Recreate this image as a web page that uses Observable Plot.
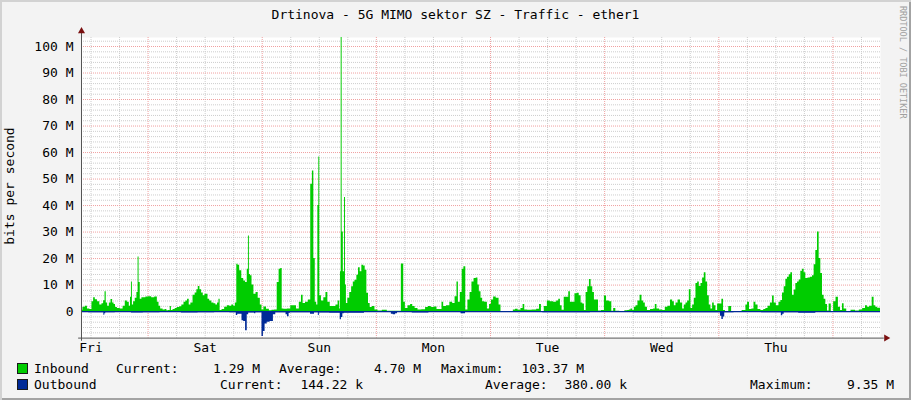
<!DOCTYPE html>
<html><head><meta charset="utf-8">
<script src="https://cdn.jsdelivr.net/npm/d3@7"></script>
<script src="https://cdn.jsdelivr.net/npm/@observablehq/plot@0.6"></script>
<style>
html,body{margin:0;padding:0;background:#f3f3f3;}
#wrap{position:relative;width:911px;height:400px;background:#f3f3f3;box-shadow:inset 2px 2px 0 #d2d2d2, inset -2px -2px 0 #a3a3a3;font-family:"DejaVu Sans Mono",monospace;font-size:13px;color:#000;overflow:hidden}
.t{position:absolute;white-space:pre;line-height:13px;height:13px}
.r{text-align:right}
.sw{position:absolute;width:9px;height:9px;border:1px solid #1a1a1a}
#chart{position:absolute;left:0;top:0}
</style></head><body>
<div id="wrap">
<div id="chart"></div>
</div>
<script>
// ---- data (hours since Friday 00:00, Mbit/s) ----
const title = "Drtinova - 5G MIMO sektor SZ - Traffic - ether1";
const yLabel = "bits per second";
const watermark = "RRDTOOL / TOBI OETIKER";
const dayLabels = ["Fri","Sat","Sun","Mon","Tue","Wed","Thu"];
const yTicks = [0,10,20,30,40,50,60,70,80,90,100];
const xDomain = [-14, 154];
const yDomain = [-10, 103.4];

const inbound = [
[-14.0,0.5],[-13.4,1.6],[-13.0,2.0],[-12.5,1.0],[-12.0,0.8],[-11.6,3.7],[-11.3,5.2],[-10.9,4.5],[-10.4,3.7],[-9.9,2.5],
[-9.5,3.0],[-9.2,4.1],[-8.9,7.5],[-8.7,3.2],[-8.3,2.0],[-8.0,3.2],[-7.6,4.6],[-7.3,3.2],[-7.0,2.7],[-6.7,1.5],
[-6.2,1.2],[-5.5,1.0],[-5.0,2.0],[-4.6,4.0],[-4.1,3.5],[-3.8,2.0],[-3.6,5.4],[-3.4,11.2],[-3.2,2.5],[-2.9,3.7],
[-2.5,5.0],[-2.2,7.2],[-2.0,20.6],[-1.8,11.0],[-1.5,4.7],[-1.1,5.2],[-0.6,5.2],[-0.3,5.5],[0.4,5.6],[1.1,5.2],
[1.7,5.5],[2.2,3.5],[2.4,2.0],[2.9,1.0],[3.4,0.6],[3.8,0.8],[4.1,0.3],[4.5,0.4],[4.8,1.9],[5.0,0.4],
[5.5,0.8],[5.9,1.2],[6.4,1.5],[6.9,1.8],[7.3,2.5],[7.8,3.5],[8.1,4.0],[8.5,4.7],[8.8,2.5],[9.2,3.2],
[9.7,6.2],[10.1,7.0],[10.4,8.2],[10.7,9.5],[11.1,8.2],[11.4,7.0],[11.8,6.0],[12.1,6.5],[12.5,6.5],[12.7,4.7],
[13.2,4.0],[13.6,3.2],[14.1,3.0],[14.4,2.5],[14.8,3.2],[15.0,4.7],[15.3,0.4],[15.8,0.8],[16.4,1.6],[16.9,2.2],
[17.4,2.0],[17.8,2.5],[18.2,2.0],[18.5,3.2],[18.8,17.9],[19.0,17.5],[19.5,15.4],[19.9,12.5],[20.3,11.5],[20.7,11.0],
[21.0,16.0],[21.2,28.5],[21.4,14.0],[21.7,13.5],[22.0,10.0],[22.5,6.5],[22.9,7.2],[23.4,5.0],[23.8,2.5],[24.1,0.6],
[24.6,1.7],[25.2,0.9],[25.8,0.3],[26.3,0.5],[26.9,0.6],[27.4,11.0],[27.7,16.0],[28.1,16.3],[28.3,1.0],[28.8,0.9],
[29.8,1.0],[30.2,2.2],[30.9,2.2],[31.5,1.0],[32.1,3.5],[32.4,6.2],[32.8,3.1],[33.4,3.5],[34.0,4.4],[34.4,48.0],
[34.7,53.0],[35.0,20.0],[35.3,3.5],[35.6,2.5],[35.8,40.0],[36.0,58.3],[36.2,6.0],[36.7,4.0],[37.2,5.2],[37.6,7.2],
[38.0,3.5],[38.6,1.9],[39.3,1.9],[39.7,2.5],[40.2,4.0],[40.4,1.0],[40.5,15.0],[40.7,103.37],[40.9,30.0],[41.2,15.0],
[41.4,43.0],[41.6,10.0],[41.8,3.1],[42.2,5.0],[42.6,7.2],[43.0,9.4],[43.3,11.2],[43.7,11.8],[44.1,13.7],[44.4,16.5],
[44.8,15.0],[45.1,17.5],[45.5,17.2],[45.8,15.6],[46.2,6.9],[46.5,3.1],[46.9,1.5],[47.4,1.9],[48.0,0.6],[48.7,0.2],
[49.8,0.5],[50.8,0.1],[52.9,0.1],[53.6,18.0],[53.9,3.5],[54.3,1.2],[55.0,2.2],[55.4,2.7],[55.9,1.9],[56.4,1.2],
[57.1,0.6],[58.0,0.7],[58.7,1.5],[59.2,1.9],[59.9,1.5],[60.4,1.7],[61.1,0.8],[61.7,0.8],[61.9,3.5],[62.4,1.9],
[63.1,2.2],[63.8,3.5],[64.3,3.1],[64.8,5.6],[65.1,11.2],[65.4,3.5],[65.9,7.2],[66.2,16.0],[66.6,16.9],[67.0,0.6],
[67.5,4.4],[67.9,7.2],[68.3,11.2],[68.8,12.5],[69.2,12.7],[69.5,10.0],[69.8,7.5],[70.2,5.0],[70.5,3.7],[71.1,3.5],
[71.6,1.0],[72.0,2.7],[72.4,4.4],[72.9,5.5],[73.5,5.0],[74.1,2.5],[74.3,0.0],[76.6,0.0],[77.0,0.6],[77.5,0.9],
[78.1,0.5],[78.7,1.2],[79.0,2.7],[79.4,0.6],[80.2,0.5],[81.3,0.6],[82.1,0.9],[82.5,2.7],[82.9,0.0],[83.7,1.9],
[84.2,4.0],[84.9,3.7],[85.6,3.5],[86.2,4.0],[86.5,4.7],[86.9,2.2],[87.2,0.5],[87.8,5.4],[88.3,5.4],[88.6,7.5],
[89.0,3.5],[89.5,3.5],[90.0,6.7],[90.4,6.9],[90.9,6.0],[91.2,3.2],[91.6,2.9],[91.9,0.4],[92.3,7.2],[92.6,9.4],
[93.0,12.1],[93.3,9.4],[93.7,7.2],[94.0,4.4],[94.5,4.4],[94.9,0.2],[95.8,0.4],[96.1,5.9],[96.7,4.0],[97.3,3.7],
[97.7,0.1],[98.1,1.2],[98.6,0.1],[99.8,0.0],[100.7,0.3],[101.0,0.4],[101.4,0.6],[101.7,1.0],[102.1,0.4],[102.4,1.6],
[102.8,2.2],[103.2,4.0],[103.7,6.2],[104.0,4.0],[104.4,3.2],[104.7,1.6],[105.3,0.4],[106.0,0.8],[106.5,1.0],[106.8,2.7],
[107.2,1.0],[107.9,0.6],[108.5,0.4],[109.0,1.6],[109.6,2.0],[110.1,4.4],[110.5,3.7],[110.8,2.2],[111.2,3.2],[111.7,4.4],
[112.2,3.2],[112.6,1.0],[112.9,2.5],[113.3,3.2],[113.6,4.0],[114.0,8.2],[114.3,1.2],[114.7,2.5],[115.0,5.0],[115.4,10.6],
[115.7,11.2],[116.1,9.5],[116.4,10.6],[116.8,12.7],[117.1,14.7],[117.5,11.2],[117.8,6.0],[118.2,2.5],[118.5,1.0],[118.9,3.2],
[119.2,2.2],[119.6,0.4],[119.9,2.9],[120.4,2.9],[120.9,4.7],[121.1,0.4],[121.7,0.0],[122.5,1.9],[122.9,0.0],[124.3,0.0],
[125.5,0.4],[125.9,2.5],[126.2,3.5],[126.7,0.8],[127.2,1.0],[127.6,3.5],[128.0,2.5],[128.5,0.8],[129.2,0.4],[129.7,0.8],
[130.1,1.2],[130.6,2.0],[131.1,3.2],[131.5,5.9],[131.8,3.2],[132.4,2.2],[132.9,3.5],[133.2,4.2],[133.6,7.0],[133.9,9.4],
[134.3,12.2],[134.6,13.0],[135.0,13.9],[135.3,14.7],[135.7,6.2],[136.0,8.1],[136.4,10.6],[136.7,11.2],[137.1,11.9],[137.4,15.2],
[137.8,16.0],[138.1,14.7],[138.5,12.5],[139.0,12.7],[139.5,13.0],[139.9,13.5],[140.2,17.7],[140.6,23.0],[140.9,30.0],[141.3,20.0],
[141.6,14.4],[142.0,6.2],[142.3,4.7],[142.7,2.7],[143.0,0.2],[143.4,2.9],[143.9,0.0],[144.4,3.7],[144.9,5.4],[145.4,1.6],
[145.8,0.4],[146.2,3.0],[146.5,1.0],[147.3,0.0],[148.3,0.5],[149.2,0.2],[149.9,0.6],[150.6,1.2],[151.1,2.2],[151.4,1.6],
[152.0,2.0],[152.5,5.4],[152.8,2.2],[153.2,1.6],[153.6,1.3],[154.0,1.29]
];

const outbound = [
[-14.0,-0.3],[-11.0,-0.4],[-9.4,-0.4],[-9.2,-1.4],[-9.0,-0.8],[-8.8,-0.4],[-5.0,-0.3],[-2.0,-0.5],[0.0,-0.4],[5.0,-0.3],
[9.0,-0.5],[12.0,-0.4],[16.0,-0.3],[18.4,-0.4],[18.7,-1.5],[19.0,-1.0],[19.6,-1.0],[19.9,-3.5],[20.3,-3.7],[20.7,-7.2],
[21.0,-1.2],[21.3,-0.5],[22.3,-0.5],[22.5,-0.8],[22.8,-0.4],[23.8,-0.4],[24.1,-9.35],[24.4,-7.5],[24.8,-4.7],[25.3,-4.0],
[26.0,-3.7],[26.7,-1.2],[27.0,-0.4],[28.9,-0.4],[29.1,-1.2],[29.5,-1.9],[29.8,-0.6],[30.1,-0.4],[34.0,-0.4],[34.3,-1.0],
[34.9,-1.0],[35.1,-0.4],[35.7,-0.4],[35.9,-1.5],[36.1,-0.5],[40.3,-0.6],[40.5,-3.1],[40.8,-2.2],[41.1,-0.8],[41.4,-0.6],
[43.0,-0.6],[48.0,-0.2],[51.0,-0.3],[51.3,-1.0],[51.8,-1.2],[52.3,-0.8],[52.6,-0.3],[58.5,-0.5],[59.6,-0.3],[65.7,-0.3],
[65.9,-0.8],[66.6,-0.8],[66.9,-0.3],[74.0,-0.3],[80.0,-0.2],[86.0,-0.4],[100.0,-0.2],[104.0,-0.4],[112.0,-0.4],[120.2,-0.4],
[120.5,-1.8],[120.8,-3.0],[121.1,-2.0],[121.4,-0.4],[125.0,-0.3],[133.0,-0.4],[133.3,-1.6],[133.6,-1.0],[133.9,-0.4],[139.7,-0.6],
[141.1,-0.3],[154.0,-0.14]
];

const legendRows = [
  {name:"Inbound",  color:"#00cc00", cur:"1.29 M",   avg:"4.70 M",   max:"103.37 M"},
  {name:"Outbound", color:"#002a97", cur:"144.22 k", avg:"380.00 k", max:"9.35 M"}
];

// ---- grid helpers ----
const minorY = d3.range(-8, 104, 2).filter(v => v % 10 !== 0);
const majorY = d3.range(-10, 104, 10).filter(v => v > yDomain[0]);
const minorX = d3.range(-12, 154, 6).filter(v => v % 24 !== 0);
const majorX = d3.range(0, 154, 24);
const dayNoon = dayLabels.map((d, i) => 12 + 24 * (i - 1));

const gridMinor = "#cdcdcd", gridMajor = "#f0a0a0", axisColor = "#555", arrowColor = "#7a1010";

const chart = Plot.plot({
  width: 911, height: 356,
  marginLeft: 81, marginRight: 31, marginTop: 37, marginBottom: 18.4,
  style: {background: "transparent", fontFamily: "DejaVu Sans Mono", fontSize: "13px", color: "#000", overflow: "visible"},
  x: {domain: xDomain, axis: null},
  y: {domain: yDomain, axis: null},
  marks: [
    Plot.frame({fill: "white", stroke: "none"}),
    Plot.ruleY(minorY, {stroke: gridMinor, strokeDasharray: "1,1"}),
    Plot.ruleX(minorX, {stroke: gridMinor, strokeDasharray: "1,1"}),
    Plot.ruleY(majorY, {stroke: gridMajor, strokeDasharray: "1,1"}),
    Plot.ruleX(majorX, {stroke: gridMajor, strokeDasharray: "1,1"}),
    Plot.areaY(inbound, {x: d => d[0], y: d => d[1], curve: "step", fill: "#00cc00"}),
    Plot.areaY(outbound, {x: d => d[0], y: d => d[1], curve: "step", fill: "#002a97"}),
    Plot.ruleY([0], {stroke: "#002a97", strokeWidth: 1.2}),
    Plot.ruleX([xDomain[0]], {y1: yDomain[0] - 1.2, y2: yDomain[1] + 2, stroke: axisColor}),
    Plot.ruleY([yDomain[0]], {x1: xDomain[0] - 0.6, x2: xDomain[1] + 0.8, stroke: axisColor}),
    Plot.dot([[xDomain[0], yDomain[1] + 2.4]], {x: d => d[0], y: d => d[1], symbol: "triangle", r: 2.6, fill: arrowColor, stroke: "none"}),
    Plot.dot([[xDomain[1] + 1.2, yDomain[0]]], {x: d => d[0], y: d => d[1], symbol: "triangle", r: 2.6, rotate: 90, fill: arrowColor, stroke: "none"}),
    Plot.axisY(yTicks, {tickSize: 0, tickPadding: 8, tickFormat: d => d === 0 ? "0" : `${d} M`, label: null, fontSize: 13}),
    Plot.axisX(dayNoon, {tickSize: 0, tickPadding: 5, tickFormat: d => dayLabels[Math.round((d - 12) / 24) + 1], label: null, fontSize: 13})
  ]
});
document.getElementById("chart").appendChild(chart);

// ---- texts ----
const wrap = document.getElementById("wrap");
function addText(txt, opts) {
  const el = document.createElement("div");
  el.className = "t" + (opts.right ? " r" : "");
  el.textContent = txt;
  if (opts.left !== undefined) el.style.left = opts.left + "px";
  if (opts.right !== undefined) { el.style.left = (opts.right - 200) + "px"; el.style.width = "200px"; }
  el.style.top = (opts.baseline - 11) + "px";
  wrap.appendChild(el);
  return el;
}
// title
const t = addText(title, {left: 0, baseline: 19.3});
t.style.width = "911px"; t.style.textAlign = "center";

// y axis label (rotated)
const yl = document.createElement("div");
yl.className = "t";
yl.textContent = yLabel;
Object.assign(yl.style, {left: "0px", top: "0px", transformOrigin: "0 0", transform: "translate(13.5px, 186px) rotate(-90deg) translate(-50%, -11px)"});
wrap.appendChild(yl);

// watermark
const wm = document.createElement("div");
wm.className = "t";
wm.textContent = watermark;
Object.assign(wm.style, {left: "0px", top: "0px", fontSize: "8.5px", lineHeight: "9px", color: "#a0a0a0", transformOrigin: "0 0", transform: "translate(899.5px, 6px) rotate(90deg) translate(0, -7.5px)"});
wrap.appendChild(wm);

// legend
const legendPos = [
  {base: 373, cL: 116, cR: 260, aL: 279, aR: 421, mL: 441, mR: 584},
  {base: 389, cL: 220, cR: 363, aL: 485, aR: 627, mL: 750, mR: 894}
];
legendRows.forEach((r, i) => {
  const p = legendPos[i];
  const sw = document.createElement("div");
  sw.className = "sw";
  sw.style.left = "17px"; sw.style.top = (p.base - 10) + "px"; sw.style.background = r.color;
  wrap.appendChild(sw);
  addText(r.name, {left: 34, baseline: p.base});
  addText("Current:", {left: p.cL, baseline: p.base});
  addText(r.cur, {right: p.cR, baseline: p.base});
  addText("Average:", {left: p.aL, baseline: p.base});
  addText(r.avg, {right: p.aR, baseline: p.base});
  addText("Maximum:", {left: p.mL, baseline: p.base});
  addText(r.max, {right: p.mR, baseline: p.base});
});
</script>
</body></html>
